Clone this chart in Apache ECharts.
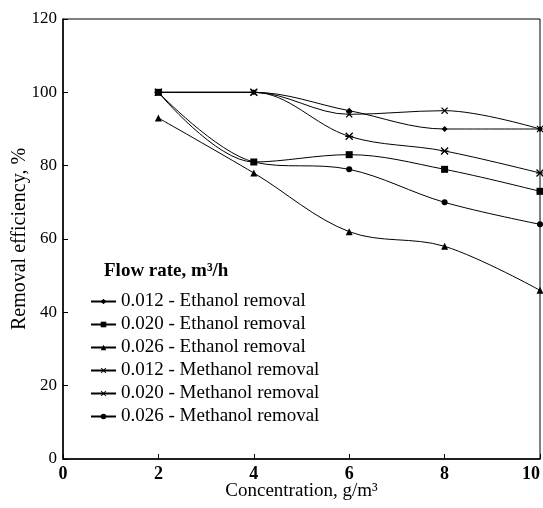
<!DOCTYPE html>
<html><head><meta charset="utf-8">
<script src="https://cdn.jsdelivr.net/npm/echarts@6/dist/echarts.min.js"></script>
<style>html,body{margin:0;padding:0;background:#fff}#c{width:543px;height:508px}</style>
</head><body><div id="c"></div>
<script>
var concentrations = [2, 4, 6, 8, 10];
var eth012 = [100, 100, 95, 90, 90];
var eth020 = [100, 81, 83, 79, 73];
var eth026 = [93, 78, 62, 58, 46];
var meth012 = [100, 100, 94, 95, 90];
var meth020 = [100, 100, 88, 84, 78];
var meth026 = [100, 81, 79, 70, 64];
var seriesNames = ['0.012 - Ethanol removal', '0.020 - Ethanol removal', '0.026 - Ethanol removal',
  '0.012 - Methanol removal', '0.020 - Methanol removal', '0.026 - Methanol removal'];
var yTicks = [0, 20, 40, 60, 80, 100, 120];
var xTicks = [0, 2, 4, 6, 8, 10];

var FONT = 'Liberation Serif';
var crossPath = 'path://M0,1.2L1.2,0L5,3.8L8.8,0L10,1.2L6.2,5L10,8.8L8.8,10L5,6.2L1.2,10L0,8.8L3.8,5Z';
var starPath = 'path://M0,1.2L1.2,0L5,3.8L8.8,0L10,1.2L6.2,5L10,8.8L8.8,10L5,6.2L1.2,10L0,8.8L3.8,5Z M0,4.3L10,4.3L10,5.7L0,5.7Z';
var symbols = ['diamond', 'rect', 'triangle', crossPath, starPath, 'circle'];
var sizes = [6, 7, 7, 7, 8, 6];
var allData = [eth012, eth020, eth026, meth012, meth020, meth026];

function pairs(arr) { return concentrations.map(function (x, i) { return [x, arr[i]]; }); }

var series = allData.map(function (arr, k) {
  return {
    name: seriesNames[k], type: 'line', data: pairs(arr), smooth: 0.35,
    symbol: symbols[k], symbolSize: sizes[k], showSymbol: true,
    lineStyle: { color: '#000', width: 1 },
    itemStyle: { color: '#000', borderColor: '#000', borderWidth: 0 },
    emphasis: { disabled: true }, animation: false
  };
});

var chart = echarts.init(document.getElementById('c'));
chart.setOption({
  backgroundColor: '#fff',
  animation: false,
  title: {
    text: 'Flow rate, m³/h', left: 99, top: 257,
    textStyle: { fontFamily: FONT, fontSize: 19, fontWeight: 'bold', color: '#000' }
  },
  legend: {
    orient: 'vertical', left: 85, top: 287, itemGap: 4, itemWidth: 25, itemHeight: 7,
    data: seriesNames,
    textStyle: { fontFamily: FONT, fontSize: 19, color: '#000' }
  },
  grid: { left: 63, right: 3, top: 19, bottom: 49, show: true, borderColor: '#000', borderWidth: 1,
    containLabel: false, outerBoundsMode: 'none' },
  xAxis: {
    type: 'value', min: 0, max: 10, interval: 2,
    name: 'Concentration, g/m³', nameLocation: 'middle', nameGap: 23, nameMoveOverlap: false,
    nameTextStyle: { fontFamily: FONT, fontSize: 19, color: '#000' },
    axisLine: { lineStyle: { color: '#000', width: 1.5 } },
    axisTick: { inside: true, length: 5, lineStyle: { color: '#000' } },
    axisLabel: { fontFamily: FONT, fontSize: 18, color: '#000', margin: 6, fontWeight: 'bold',
      alignMaxLabel: 'right',
      formatter: function (v) { return xTicks.indexOf(v) >= 0 ? String(v) : ''; } },
    splitLine: { show: false }
  },
  yAxis: {
    type: 'value', min: 0, max: 120, interval: 20,
    name: 'Removal efficiency, %', nameLocation: 'middle', nameGap: 33, nameMoveOverlap: false,
    nameTextStyle: { fontFamily: FONT, fontSize: 20, color: '#000' },
    axisLine: { lineStyle: { color: '#000', width: 1.5 } },
    axisTick: { inside: true, length: 5, lineStyle: { color: '#000' } },
    axisLabel: { fontFamily: FONT, fontSize: 17, color: '#000', margin: 6,
      formatter: function (v) { return yTicks.indexOf(v) >= 0 ? String(v) : ''; } },
    splitLine: { show: false }
  },
  series: series
});
</script></body></html>
